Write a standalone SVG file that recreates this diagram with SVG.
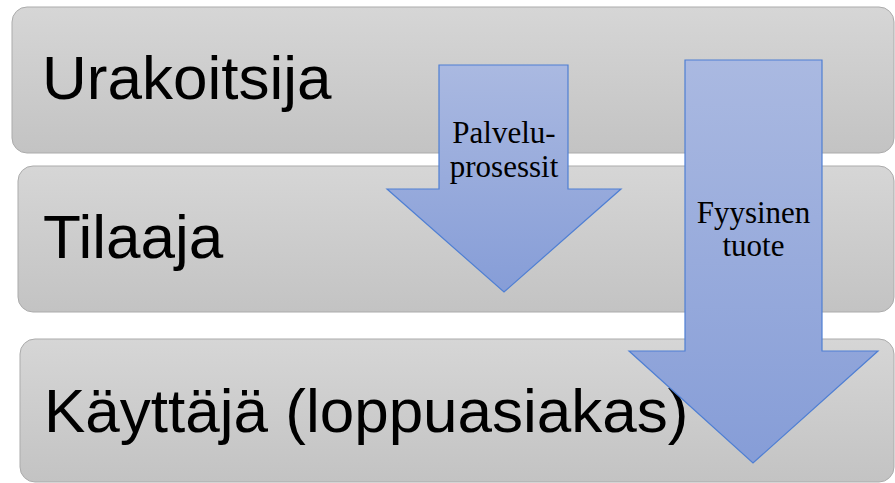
<svg xmlns="http://www.w3.org/2000/svg" width="895" height="483" viewBox="0 0 895 483">
  <defs>
    <linearGradient id="gBox" x1="0" y1="0" x2="0" y2="1">
      <stop offset="0" stop-color="#d6d6d6"/>
      <stop offset="1" stop-color="#c3c3c3"/>
    </linearGradient>
    <linearGradient id="gArrow" x1="0" y1="0" x2="0" y2="1">
      <stop offset="0" stop-color="#aab9e1"/>
      <stop offset="1" stop-color="#869dd7"/>
    </linearGradient>
  </defs>
  <style>
    .box { fill: url(#gBox); stroke: #ababab; stroke-width: 1; }
    .lbl { font-family: "Liberation Sans", Arial, sans-serif; font-size: 62px; fill: #000; }
    .arrow { fill: url(#gArrow); stroke: #4f7fd3; stroke-width: 1.2; }
    .flow { font-family: "Liberation Serif", "Times New Roman", serif; font-size: 31px; fill: #000; text-anchor: middle; }
  </style>

  <!-- level bands -->
  <g id="urakoitsija">
    <rect class="box" x="12" y="7" width="882" height="146" rx="15" ry="15"/>
    <text class="lbl" x="42" y="99">Urakoitsija</text>
  </g>
  <g id="tilaaja">
    <rect class="box" x="18" y="166" width="876" height="146" rx="15" ry="15"/>
    <text class="lbl" x="43" y="258">Tilaaja</text>
  </g>
  <g id="kayttaja">
    <rect class="box" x="20" y="339" width="874" height="143" rx="15" ry="15"/>
    <text class="lbl" x="44" y="432">Käyttäjä (loppuasiakas)</text>
  </g>

  <!-- flow arrows -->
  <g id="flows">
    <g id="palveluprosessit">
      <polygon class="arrow" points="439,65 568,65 568,189 621,189 504,292 387,189 439,189"/>
      <text class="flow" x="504" y="143">Palvelu-</text>
      <text class="flow" x="504" y="177">prosessit</text>
    </g>
    <g id="fyysinen-tuote">
      <polygon class="arrow" points="685,60 822,60 822,351 878,351 753,463 629,351 685,351"/>
      <text class="flow" x="753.5" y="223">Fyysinen</text>
      <text class="flow" x="753.5" y="256">tuote</text>
    </g>
  </g>
</svg>
